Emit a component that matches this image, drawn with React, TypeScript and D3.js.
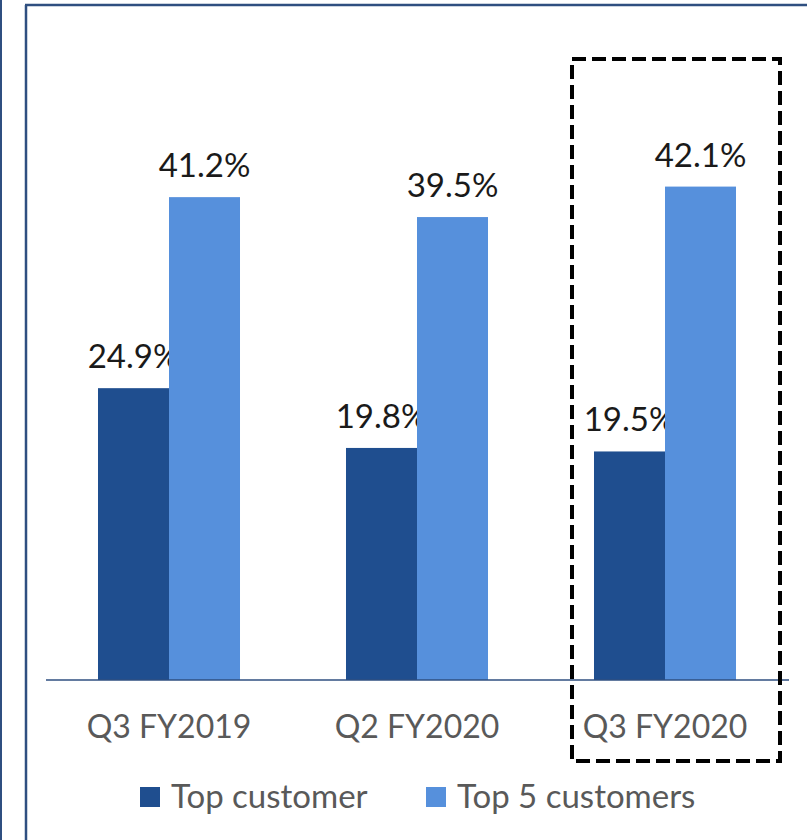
import React from 'react';
import * as d3 from 'd3';

const categories = ['Q3 FY2019', 'Q2 FY2020', 'Q3 FY2020'];
const seriesNames = ['Top customer', 'Top 5 customers'];
const topCustomer = [24.9, 19.8, 19.5];
const top5Customers = [41.2, 39.5, 42.1];
const colors = ['#1f4e8f', '#5690dc'];

const W = 807;
const H = 840;
const baseY = 680;
const font = 'Lato, "Open Sans", sans-serif';

const App: React.FC = () => {
  const x0 = d3
    .scaleBand<string>()
    .domain(categories)
    .range([45, 789])
    .paddingInner(0.4274)
    .paddingOuter(0.2137);

  const x1 = d3
    .scaleBand<string>()
    .domain(seriesNames)
    .range([0, x0.bandwidth()]);

  const y = d3.scaleLinear().domain([0, 50]).range([baseY, baseY - 50 * 11.72]);

  const values = [topCustomer, top5Customers];

  // dashed highlight around the last quarter
  const hx = x0(categories[2])! - 22;

  const legendX = [140, 426];

  return (
    <div style={{ position: 'absolute', left: 0, top: 0 }}>
      <svg width={W} height={H} style={{ display: 'block' }}>
        <rect x={0} y={0} width={W} height={H} fill="#fff" />
        {/* frame lines */}
        <line x1={1} y1={0} x2={1} y2={H} stroke="#2f4f80" strokeWidth={2} />
        <line x1={26} y1={5} x2={26} y2={H} stroke="#2f4f80" strokeWidth={2.5} />
        <line x1={25} y1={5} x2={W} y2={5} stroke="#2f4f80" strokeWidth={2.5} />

        {values.map((vals, si) =>
          vals.map((v, ci) => {
            const bx = x0(categories[ci])! + x1(seriesNames[si])!;
            return (
              <g key={`${si}-${ci}`}>
                <rect
                  x={bx}
                  y={y(v)}
                  width={x1.bandwidth()}
                  height={baseY - y(v)}
                  fill={colors[si]}
                />
                <text
                  x={bx + x1.bandwidth() / 2}
                  y={y(v) - 20}
                  textAnchor="middle"
                  fontFamily={font}
                  fontSize={33}
                  fill="#1a1a1a"
                >
                  {v.toFixed(1)}%
                </text>
              </g>
            );
          })
        )}

        {/* axis baseline */}
        <line x1={46} y1={baseY} x2={789} y2={baseY} stroke="#2f4f80" strokeWidth={1.5} />

        {categories.map((c) => (
          <text
            key={c}
            x={x0(c)! + x0.bandwidth() / 2}
            y={738}
            textAnchor="middle"
            fontFamily={font}
            fontSize={32}
            fill="#595959"
          >
            {c}
          </text>
        ))}

        <rect
          x={hx}
          y={59}
          width={208}
          height={702}
          fill="none"
          stroke="#000"
          strokeWidth={4}
          strokeDasharray="14 6"
        />

        {/* legend */}
        {seriesNames.map((s, i) => (
          <g key={s}>
            <rect x={legendX[i]} y={787} width={20} height={20} fill={colors[i]} />
            <text x={legendX[i] + 31} y={808} fontFamily={font} fontSize={33} fill="#595959">
              {s}
            </text>
          </g>
        ))}
      </svg>
    </div>
  );
};

export default App;
